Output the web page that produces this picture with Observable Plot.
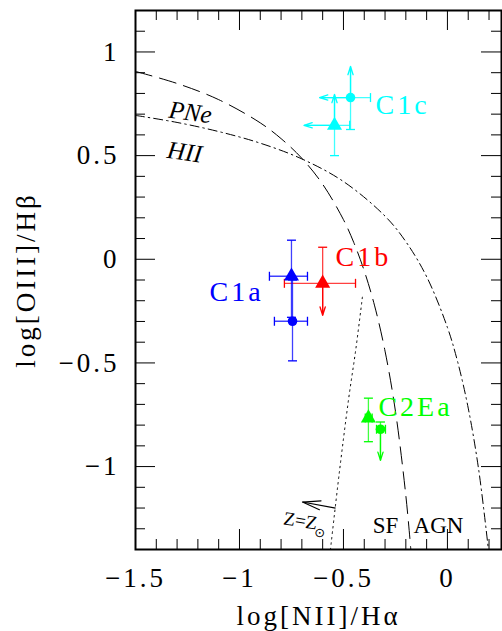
<!DOCTYPE html>
<html><head><meta charset="utf-8">
<script src="https://cdn.jsdelivr.net/npm/d3@7"></script>
<script src="https://cdn.jsdelivr.net/npm/@observablehq/plot@0.6"></script>
<style>body{margin:0;background:#fff} #chart{width:502px;height:631px}</style>
</head><body><div id="chart"></div>
<script>
// ticks
const xMajor = [-1.5, -1, -0.5, 0];
const xMinor = [-1.4, -1.3, -1.2, -1.1, -0.9, -0.8, -0.7, -0.6, -0.4, -0.3, -0.2, -0.1, 0.1, 0.2];
const yMajor = [-1, -0.5, 0, 0.5, 1];
const yMinor = [-1.3, -1.2, -1.1, -0.9, -0.8, -0.7, -0.6, -0.4, -0.3, -0.2, -0.1, 0.1, 0.2, 0.3, 0.4, 0.6, 0.7, 0.8, 0.9, 1.1];

// demarcation curves
const dashX = [-1.5, -1.3, -1.1, -0.9, -0.8, -0.7, -0.6, -0.5, -0.45, -0.4, -0.35, -0.3, -0.25, -0.2, -0.176];
const dashY = [0.906, 0.848, 0.770, 0.658, 0.582, 0.487, 0.362, 0.191, 0.08, -0.056, -0.225, -0.443, -0.733, -1.14, -1.40];
const dashDotX = [-1.5, -1.3, -1.1, -0.9, -0.7, -0.5, -0.3, -0.2, -0.1, 0, 0.05, 0.1, 0.15, 0.197];
const dashDotY = [0.694, 0.660, 0.616, 0.560, 0.484, 0.375, 0.208, 0.085, -0.084, -0.329, -0.498, -0.718, -1.013, -1.40];
const dotX = [-0.409, -0.44, -0.476, -0.52, -0.5625];
const dotY = [-0.183, -0.43, -0.68, -1.03, -1.40];

// Z=Zsun arrow (tail, head)
const zArrowX = [-0.538, -0.697];
const zArrowY = [-1.20, -1.171];

// sources
const ptName   = ["C1c", "C1c", "C1a", "C1a", "C1b", "C2Ea", "C2Ea"];
const ptSymbol = ["circle", "triangle", "triangle", "circle", "triangle", "triangle", "circle"];
const ptX      = [-0.466, -0.543, -0.750, -0.745, -0.600, -0.380, -0.322];
const ptY      = [0.780, 0.646, -0.082, -0.299, -0.116, -0.766, -0.820];
const ptXLo    = [-0.615, -0.690, -0.856, -0.832, -0.784, -0.395, -0.341];
const ptXHi    = [-0.370, -0.470, -0.673, -0.673, -0.442, -0.362, -0.298];
const ptYLo    = [0.626, 0.500, -0.280, -0.490, -0.270, -0.880, -0.970];
const ptYHi    = [0.930, 0.795, 0.092, -0.100, 0.058, -0.670, -0.785];
const ptXLoLim = [true, true, false, false, false, false, false];
const ptYLoLim = [false, false, false, false, true, false, true];
const ptYHiLim = [true, true, false, false, false, false, false];

const srcName  = ["C1c", "C1b", "C1a", "C2Ea"];
const srcColor = ["#00ffff", "#ff0000", "#0000ff", "#00ff00"];
const srcLabX  = [-0.346, -0.538, -1.144, -0.332];
const srcLabY  = [0.742, 0.010, -0.159, -0.713];

// annotations
const annText = ["PNe", "HII"];
const annX = [-1.236, -1.264];
const annY = [0.708, 0.516];
const regText = ["SF", "AGN"];
const regX = [-0.298, -0.043];
const regY = [-1.287, -1.287];
const zText = ["Z=Z"];
const zX = [-0.707];
const zY = [-1.262];
const sunX = [-0.614];
const sunY = [-1.318];

const colorOf = n => srcColor[srcName.indexOf(n)];
const rows = ptName.map((n, i) => ({
  name: n, sym: ptSymbol[i], x: ptX[i], y: ptY[i],
  xLo: ptXLo[i], xHi: ptXHi[i], yLo: ptYLo[i], yHi: ptYHi[i],
  xLoLim: ptXLoLim[i], yLoLim: ptYLoLim[i], yHiLim: ptYHiLim[i], color: colorOf(n)
}));
const curve = (xs, ys) => xs.map((x, i) => ({x, y: ys[i]}));

const capV = {draw(ctx, size) { const r = Math.sqrt(size / Math.PI); ctx.moveTo(0, -r); ctx.lineTo(0, r); }};
const capH = {draw(ctx, size) { const r = Math.sqrt(size / Math.PI); ctx.moveTo(-r, 0); ctx.lineTo(r, 0); }};
// open arrowhead with its tip at the anchor, pointing "up" before rotation
const openHead = {draw(ctx) { ctx.moveTo(-4.5, 18); ctx.lineTo(0, 0); ctx.lineTo(4.5, 18); }};
const fmt = d => d === 0 ? "0" : (d < 0 ? "−" : "") + Math.abs(d);

const W = 502, H = 631, mL = 135, mR = 1, mT = 10, mB = 82;
const pw = W - mL - mR, ph = H - mT - mB;
const font = "Liberation Serif";

const xDom = [-1.5, 0.26], yDom = [-1.4, 1.2];
// direction of the Z=Zsun arrow in screen space (degrees clockwise from up)
const sx = pw / (xDom[1] - xDom[0]), sy = ph / (yDom[1] - yDom[0]);
const zdx = (zArrowX[1] - zArrowX[0]) * sx, zdy = -(zArrowY[1] - zArrowY[0]) * sy;
const zRot = Math.atan2(zdx, -zdy) * 180 / Math.PI;

const chart = Plot.plot({
  width: W, height: H,
  marginLeft: mL, marginRight: mR, marginTop: mT, marginBottom: mB,
  x: {domain: xDom},
  y: {domain: yDom},
  style: {fontFamily: font, fontSize: "27px", background: "white", color: "black"},
  marks: [
    // ticks inward on all four sides
    Plot.tickX(xMajor, {x: d => d, insetTop: ph - 20, stroke: "black"}),
    Plot.tickX(xMajor, {x: d => d, insetBottom: ph - 20, stroke: "black"}),
    Plot.tickX(xMinor, {x: d => d, insetTop: ph - 10, stroke: "black"}),
    Plot.tickX(xMinor, {x: d => d, insetBottom: ph - 10, stroke: "black"}),
    Plot.tickY(yMajor, {y: d => d, insetRight: pw - 20, stroke: "black"}),
    Plot.tickY(yMajor, {y: d => d, insetLeft: pw - 20, stroke: "black"}),
    Plot.tickY(yMinor, {y: d => d, insetRight: pw - 10, stroke: "black"}),
    Plot.tickY(yMinor, {y: d => d, insetLeft: pw - 10, stroke: "black"}),
    Plot.axisX({ticks: xMajor, tickFormat: fmt, tickSize: 0, tickPadding: 18, fontSize: 27,
      label: "log[NII]/Hα", labelAnchor: "center", labelArrow: "none", labelOffset: 75}),
    Plot.axisY({ticks: yMajor, tickFormat: fmt, tickSize: 0, tickPadding: 16, fontSize: 27,
      label: "log[OIII]/Hβ", labelAnchor: "center", labelArrow: "none", labelOffset: 120}),
    // curves
    Plot.line(curve(dashX, dashY), {x: "x", y: "y", curve: "catmull-rom", stroke: "black", strokeWidth: 1, strokeDasharray: "17,8"}),
    Plot.line(curve(dashDotX, dashDotY), {x: "x", y: "y", curve: "catmull-rom", stroke: "black", strokeWidth: 1, strokeDasharray: "9,4,1.5,4"}),
    Plot.line(curve(dotX, dotY), {x: "x", y: "y", curve: "catmull-rom", stroke: "black", strokeWidth: 1, strokeDasharray: "1.5,4"}),
    Plot.link([0], {x1: () => zArrowX[0], y1: () => zArrowY[0], x2: () => zArrowX[1], y2: () => zArrowY[1],
      stroke: "black", strokeWidth: 1.2}),
    Plot.vector([0], {x: () => zArrowX[1], y: () => zArrowY[1], length: 0, anchor: "start", rotate: zRot,
      shape: openHead, stroke: "black", strokeWidth: 1.2}),
    // annotations
    Plot.text(annText, {x: (d, i) => annX[i], y: (d, i) => annY[i], text: d => d, fontStyle: "italic", fontSize: 25, rotate: 8, fill: "black"}),
    Plot.text(regText, {x: (d, i) => regX[i], y: (d, i) => regY[i], text: d => d, fontSize: 23, fill: "black"}),
    Plot.text(zText, {x: (d, i) => zX[i], y: (d, i) => zY[i], text: d => d, fontSize: 19, rotate: 9, fill: "black"}),
    Plot.text(["⊙"], {x: (d, i) => sunX[i], y: (d, i) => sunY[i], text: d => d, fontSize: 13, fill: "black", fontFamily: "DejaVu Sans"}),
    // error bars
    Plot.link(rows, {x1: "xLo", x2: "xHi", y1: "y", y2: "y", stroke: "color", strokeWidth: 1.3, strokeOpacity: 0.75}),
    Plot.link(rows, {x1: "x", x2: "x", y1: "yLo", y2: "yHi", stroke: "color", strokeWidth: 1.3, strokeOpacity: 0.75}),
    Plot.dot(rows.filter(d => !d.xLoLim), {x: "xLo", y: "y", symbol: capV, r: 4.5, stroke: "color", fill: "none", strokeWidth: 1.3}),
    Plot.dot(rows, {x: "xHi", y: "y", symbol: capV, r: 4.5, stroke: "color", fill: "none", strokeWidth: 1.3}),
    Plot.dot(rows.filter(d => !d.yLoLim), {x: "x", y: "yLo", symbol: capH, r: 4.5, stroke: "color", fill: "none", strokeWidth: 1.3}),
    Plot.dot(rows.filter(d => !d.yHiLim), {x: "x", y: "yHi", symbol: capH, r: 4.5, stroke: "color", fill: "none", strokeWidth: 1.3}),
    Plot.arrow(rows.filter(d => d.xLoLim), {x1: "x", y1: "y", x2: "xLo", y2: "y", stroke: "color", strokeWidth: 1.3, headLength: 10, headAngle: 35}),
    Plot.arrow(rows.filter(d => d.yLoLim), {x1: "x", y1: "y", x2: "x", y2: "yLo", stroke: "color", strokeWidth: 1.3, headLength: 10, headAngle: 35}),
    Plot.arrow(rows.filter(d => d.yHiLim), {x1: "x", y1: "y", x2: "x", y2: "yHi", stroke: "color", strokeWidth: 1.3, headLength: 10, headAngle: 35}),
    // markers
    Plot.dot(rows.filter(d => d.sym === "triangle"), {x: "x", y: "y", symbol: "triangle", r: 5.6, fill: "color", stroke: "none"}),
    Plot.dot(rows.filter(d => d.sym === "circle"), {x: "x", y: "y", symbol: "circle", r: 4.8, fill: "color", stroke: "none"}),
    // source labels
    Plot.text(srcName, {x: (d, i) => srcLabX[i], y: (d, i) => srcLabY[i], text: d => d, fill: (d, i) => srcColor[i],
      textAnchor: "start", fontSize: 28, className: "srclab"}),
    Plot.frame({stroke: "black", strokeWidth: 2})
  ]
});
const svg = d3.select(chart);
svg.selectAll("g[aria-label='x-axis tick label'] text, g[aria-label='y-axis tick label'] text, g[aria-label='x-axis label'] text, g[aria-label='y-axis label'] text")
  .style("letter-spacing", "3px");
svg.selectAll(".srclab text").style("letter-spacing", "3px");
document.getElementById("chart").append(chart);
</script>
</body></html>
